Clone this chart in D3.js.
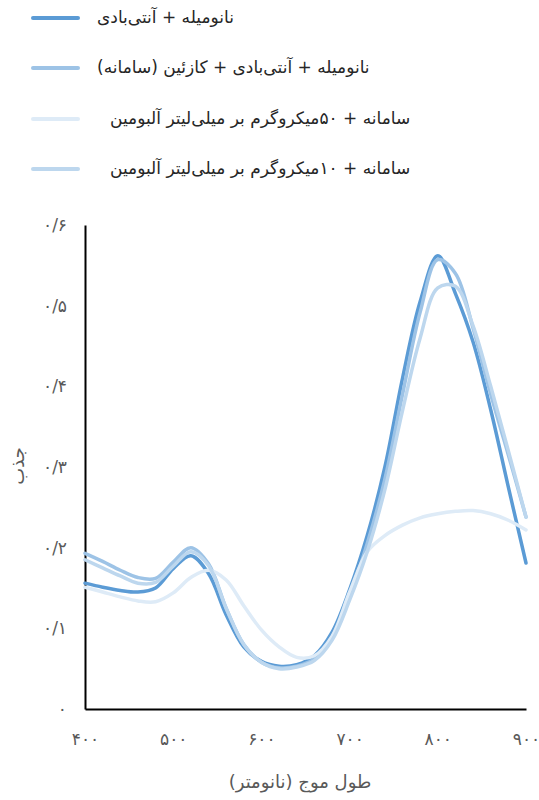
<!DOCTYPE html>
<html lang="fa">
<head>
<meta charset="utf-8">
<script src="https://cdn.jsdelivr.net/npm/d3@7"></script>
<style>
  html, body { margin: 0; padding: 0; background: #fff; }
  svg { display: block; }
  text { font-family: "DejaVu Sans", "Noto Sans", sans-serif; }
</style>
</head>
<body>
<svg id="chart" width="539" height="800"></svg>
<script>
// Wavelengths (nm) shared by all spectra
const wavelengths = [400, 420, 440, 460, 480, 500, 520, 540, 560, 580, 600, 620, 640,
                     660, 680, 700, 720, 740, 760, 780, 800, 820, 840, 860, 880, 900];

// Absorbance of each sample
const nanorodAntibody = [0.156, 0.151, 0.147, 0.145, 0.150, 0.174, 0.190, 0.168, 0.117, 0.077, 0.059, 0.053, 0.055,
                         0.066, 0.095, 0.148, 0.215, 0.300, 0.410, 0.505, 0.562, 0.515, 0.455, 0.371, 0.275, 0.181];
const nanorodAntibodyCasein = [0.193, 0.183, 0.172, 0.163, 0.162, 0.182, 0.200, 0.180, 0.125, 0.080, 0.058, 0.051, 0.053,
                               0.062, 0.088, 0.140, 0.205, 0.285, 0.390, 0.492, 0.557, 0.540, 0.472, 0.390, 0.315, 0.238];
const system50Albumin = [0.151, 0.145, 0.139, 0.134, 0.133, 0.144, 0.163, 0.172, 0.160, 0.128, 0.098, 0.077, 0.064,
                         0.066, 0.090, 0.145, 0.195, 0.215, 0.228, 0.237, 0.242, 0.245, 0.246, 0.242, 0.234, 0.222];
const system10Albumin = [0.185, 0.175, 0.165, 0.156, 0.157, 0.177, 0.195, 0.178, 0.125, 0.080, 0.058, 0.050, 0.052,
                         0.060, 0.085, 0.135, 0.195, 0.272, 0.370, 0.460, 0.522, 0.524, 0.475, 0.400, 0.320, 0.238];

const seriesNames = [
  "نانومیله + آنتی‌بادی",
  "نانومیله + آنتی‌بادی + کازئین (سامانه)",
  "سامانه + ۵۰میکروگرم بر میلی‌لیتر آلبومین",
  "سامانه + ۱۰میکروگرم بر میلی‌لیتر آلبومین"
];
const seriesValues = [nanorodAntibody, nanorodAntibodyCasein, system50Albumin, system10Albumin];
const seriesColors = ["#5b9bd5", "#9dc3e6", "#deebf7", "#bdd7ee"];

const xTickValues = [400, 500, 600, 700, 800, 900];
const xTickLabels = ["۴۰۰", "۵۰۰", "۶۰۰", "۷۰۰", "۸۰۰", "۹۰۰"];
const yTickValues = [0, 0.1, 0.2, 0.3, 0.4, 0.5, 0.6];
const yTickLabels = ["۰", "۰/۱", "۰/۲", "۰/۳", "۰/۴", "۰/۵", "۰/۶"];

const xTitle = "طول موج (نانومتر)";
const yTitle = "جذب";

const svg = d3.select("#chart");

const x = d3.scaleLinear().domain([400, 900]).range([85, 526]);
const y = d3.scaleLinear().domain([0, 0.6]).range([709, 225]);

// Axes
const xAxis = svg.append("g")
  .attr("transform", `translate(0,${y(0)})`)
  .call(d3.axisBottom(x).tickValues(xTickValues).tickSize(0).tickPadding(24)
    .tickFormat((d, i) => xTickLabels[i]));
const yAxis = svg.append("g")
  .attr("transform", `translate(${x(400)},0)`)
  .call(d3.axisLeft(y).tickValues(yTickValues).tickSize(0).tickPadding(18)
    .tickFormat((d, i) => yTickLabels[i]));

[xAxis, yAxis].forEach(g => {
  g.select(".domain").attr("stroke", "#000").attr("stroke-width", 2);
  g.selectAll("text")
    .attr("fill", "#595959")
    .style("font-size", "17px")
    .style("font-family", "\"DejaVu Sans\", sans-serif");
});

// Axis titles
svg.append("text")
  .attr("x", 300).attr("y", 788)
  .attr("text-anchor", "middle")
  .attr("fill", "#595959")
  .style("font-size", "18px")
  .text(xTitle);
svg.append("text")
  .attr("transform", "translate(24,466) rotate(-90)")
  .attr("text-anchor", "middle")
  .attr("fill", "#595959")
  .style("font-size", "18px")
  .text(yTitle);

// Spectra
const line = d3.line()
  .x((d, i) => x(wavelengths[i]))
  .y(d => y(d))
  .curve(d3.curveCatmullRom.alpha(0.5));

svg.append("g").selectAll("path")
  .data(seriesValues)
  .join("path")
  .attr("d", d => line(d))
  .attr("fill", "none")
  .attr("stroke", (d, i) => seriesColors[i])
  .attr("stroke-width", 3.5)
  .attr("stroke-linecap", "round")
  .attr("stroke-linejoin", "round");

// Legend
const legendY = [18, 68, 119, 169];
const legendTextX = [97, 97, 110, 110];
const legend = svg.append("g");
seriesNames.forEach((name, i) => {
  legend.append("line")
    .attr("x1", 33).attr("x2", 78)
    .attr("y1", legendY[i]).attr("y2", legendY[i])
    .attr("stroke", seriesColors[i])
    .attr("stroke-width", 4)
    .attr("stroke-linecap", "round");
  legend.append("text")
    .attr("x", legendTextX[i]).attr("y", legendY[i])
    .attr("dy", "0.3em")
    .attr("direction", "rtl")
    .attr("text-anchor", "end")
    .attr("fill", "#262626")
    .style("font-size", "17px")
    .text(name);
});
</script>
</body>
</html>
